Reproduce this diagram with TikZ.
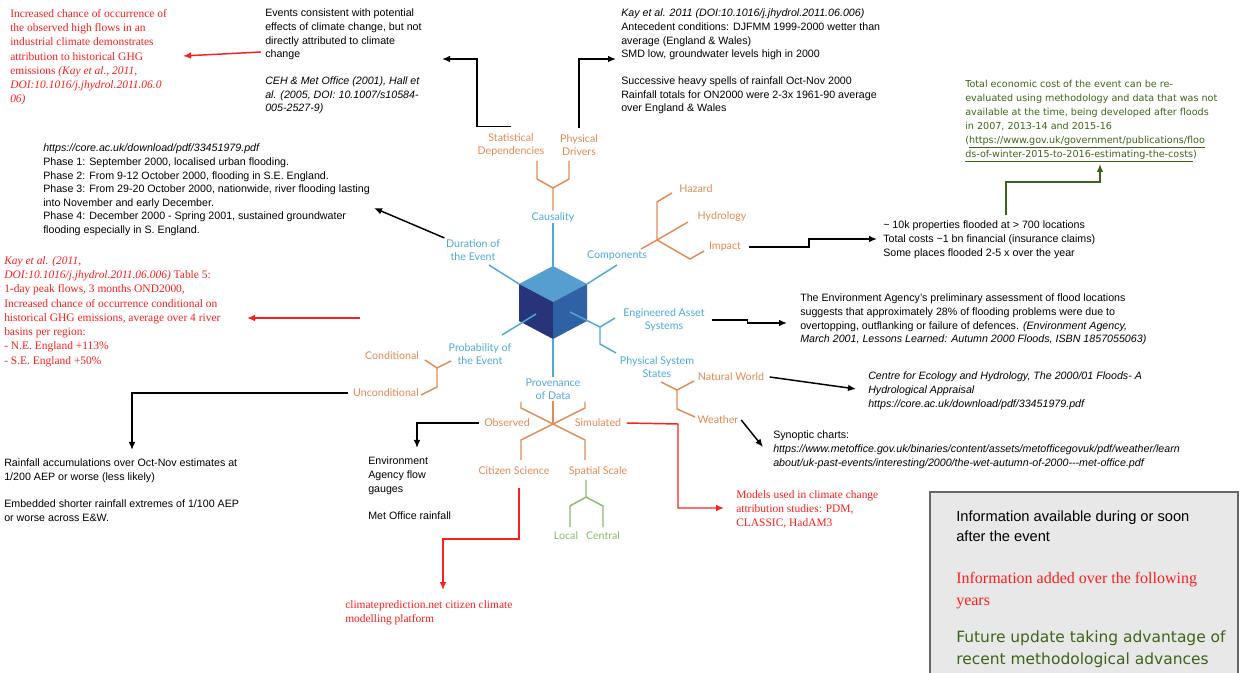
\documentclass[tikz,border=0pt]{standalone}
\usepackage{fontspec}
\setmainfont{Liberation Sans}
\newfontfamily\timesfont{Liberation Serif}
\newfontfamily\wheelfont{Lato}
\newfontfamily\comicfont{DejaVu Sans}
\usetikzlibrary{arrows.meta}

\definecolor{wheelblue}{RGB}{78,168,218}
\definecolor{wheelorange}{RGB}{226,138,84}
\definecolor{wheelgreen}{RGB}{140,185,110}
\definecolor{laterred}{RGB}{255,30,30}
\definecolor{futuregreen}{RGB}{60,100,25}
\definecolor{cubetop}{RGB}{84,158,208}
\definecolor{cubeleft}{RGB}{40,52,122}
\definecolor{cuberight}{RGB}{46,98,164}
\definecolor{legendfill}{RGB}{232,232,232}

\begin{document}
\begin{tikzpicture}[x=0.75pt,y=-0.75pt,
    note/.style={inner sep=0pt,anchor=north west,align=left,font=\fontsize{8}{10.2}\selectfont},
    laternote/.style={note,text=laterred,font=\timesfont\fontsize{8.6}{10.7}\selectfont},
    futurenote/.style={note,text=futuregreen,font=\comicfont\fontsize{7.2}{10.5}\selectfont},
    dimlabel/.style={inner sep=1pt,align=center,text=wheelblue,font=\wheelfont\fontsize{8}{9.75}\selectfont},
    sublabel/.style={dimlabel,text=wheelorange},
    leaflabel/.style={dimlabel,text=wheelgreen},
    dimline/.style={draw=wheelblue,line width=1.1pt},
    subline/.style={draw=wheelorange,line width=1.1pt},
    leafline/.style={draw=wheelgreen,line width=1.1pt},
    link/.style={-{Latex[length=6pt,width=5pt]},line width=1.1pt},
    laterlink/.style={link,color=laterred},
    futurelink/.style={link,color=futuregreen}]
    \useasboundingbox (0,0) rectangle (1239,673);

    \node[laternote] (attrib) at (10,9) {Increased chance of occurrence of\\the observed high flows in an\\industrial climate demonstrates\\attribution to historical GHG\\emissions \textit{(Kay et al., 2011,}\\\textit{DOI:10.1016/j.jhydrol.2011.06.0}\\\textit{06)}};
    \node[note] (consist) at (265,9) {Events consistent with potential\\effects of climate change, but not\\directly attributed to climate\\change\\[10pt]\textit{CEH \& Met Office (2001), Hall et}\\\textit{al. (2005, DOI: 10.1007/s10584-}\\\textit{005-2527-9)}};
    \node[note] (antec) at (621,9) {\textit{Kay et al. 2011 (DOI:10.1016/j.jhydrol.2011.06.006)}\\Antecedent conditions: DJFMM 1999-2000 wetter than\\average (England \& Wales)\\SMD low, groundwater levels high in 2000\\[10pt]Successive heavy spells of rainfall Oct-Nov 2000\\Rainfall totals for ON2000 were 2-3x 1961-90 average\\over England \& Wales};
    \node[futurenote] (cost) at (965,80) {Total economic cost of the event can be re-\\evaluated using methodology and data that was not\\available at the time, being developed after floods\\in 2007, 2013-14 and 2015-16\\(\underline{https://www.gov.uk/government/publications/floo}\\\underline{ds-of-winter-2015-to-2016-estimating-the-costs})};
    \node[note] (phases) at (43,144) {\textit{https://core.ac.uk/download/pdf/33451979.pdf}\\Phase 1: September 2000, localised urban flooding.\\Phase 2: From 9-12 October 2000, flooding in S.E. England.\\Phase 3: From 29-20 October 2000, nationwide, river flooding lasting\\into November and early December.\\Phase 4: December 2000 - Spring 2001, sustained groundwater\\flooding especially in S. England.};
    \node[laternote] (kaytable) at (4,256) {\textit{Kay et al. (2011,}\\\textit{DOI:10.1016/j.jhydrol.2011.06.006)} Table 5:\\1-day peak flows, 3 months OND2000,\\Increased chance of occurrence conditional on\\historical GHG emissions, average over 4 river\\basins per region:\\- N.E. England +113\%\\- S.E. England +50\%};
    \node[note] (props) at (883,221) {\textasciitilde{} 10k properties flooded at > 700 locations\\Total costs \textasciitilde1 bn financial (insurance claims)\\Some places flooded 2-5 x over the year};
    \node[note] (eaassess) at (800,294) {The Environment Agency’s preliminary assessment of flood locations\\suggests that approximately 28\% of flooding problems were due to\\overtopping, outflanking or failure of defences. \textit{(Environment Agency,}\\\textit{March 2001, Lessons Learned: Autumn 2000 Floods, ISBN 1857055063)}};
    \node[note] (cehref) at (868,372) {\textit{Centre for Ecology and Hydrology, The 2000/01 Floods- A}\\\textit{Hydrological Appraisal}\\\textit{https://core.ac.uk/download/pdf/33451979.pdf}};
    \node[note] (synoptic) at (773,431) {Synoptic charts:\\\textit{https://www.metoffice.gov.uk/binaries/content/assets/metofficegovuk/pdf/weather/learn}\\\textit{about/uk-past-events/interesting/2000/the-wet-autumn-of-2000-{}-{}-met-office.pdf}};
    \node[note] (rainacc) at (4,459) {Rainfall accumulations over Oct-Nov estimates at\\1/200 AEP or worse (less likely)\\[10pt]Embedded shorter rainfall extremes of 1/100 AEP\\or worse across E\&W.};
    \node[note] (gauges) at (368,457) {Environment\\Agency flow\\gauges\\[10pt]Met Office rainfall};
    \node[laternote] (models) at (736,490) {Models used in climate change\\attribution studies: PDM,\\CLASSIC, HadAM3};
    \node[laternote] (cpdn) at (345,600) {climateprediction.net citizen climate\\modelling platform};

    \fill[cubetop] (553,266) -- (587,284) -- (553,302) -- (519,284) -- cycle;
    \fill[cubeleft] (519,284) -- (553,302) -- (553,339) -- (519,321) -- cycle;
    \fill[cuberight] (587,284) -- (553,302) -- (553,339) -- (587,321) -- cycle;

    \node[dimlabel] (causal) at (553,217) {Causality};
    \node[dimlabel] (durat) at (473,250) {Duration of\\the Event};
    \node[dimlabel] (compo) at (617,256) {Components};
    \node[dimlabel] (engin) at (664,320) {Engineered Asset\\Systems};
    \node[dimlabel] (physys) at (657,367) {Physical System\\States};
    \node[dimlabel] (probab) at (480,354) {Probability of\\the Event};
    \node[dimlabel] (proven) at (553,389) {Provenance\\of Data};
    \node[sublabel] (statdep) at (511,145) {Statistical\\Dependencies};
    \node[sublabel] (phydrv) at (579,145) {Physical\\Drivers};
    \node[sublabel] (hazard) at (696,189) {Hazard};
    \node[sublabel] (hydro) at (722,217) {Hydrology};
    \node[sublabel] (impact) at (725,247) {Impact};
    \node[sublabel] (natworld) at (731,377) {Natural World};
    \node[sublabel] (weather) at (718,420) {Weather};
    \node[sublabel] (condit) at (392,356) {Conditional};
    \node[sublabel] (uncond) at (386,393) {Unconditional};
    \node[sublabel] (observ) at (507,423) {Observed};
    \node[sublabel] (simul) at (598,423) {Simulated};
    \node[sublabel] (citsci) at (514,471) {Citizen Science};
    \node[sublabel] (spatial) at (598,471) {Spatial Scale};
    \node[leaflabel] (local) at (566,536) {Local};
    \node[leaflabel] (central) at (603,536) {Central};

    \draw[dimline] (553,266) -- (causal.south);
    \draw[dimline] (519,284) -- (489,265);
    \draw[dimline] (587,284) -- (617,265);
    \draw[dimline] (570,312) -- (600,327) -- (615,318);
    \draw[dimline] (600,327) -- (600,344) -- (616,353);
    \draw[dimline] (536,314) -- (502,335);
    \draw[dimline] (553,339) -- (proven.north);

    \draw[subline] (causal.north) -- (553,188) -- (537,179) -- (537,161);
    \draw[subline] (553,188) -- (569,179) -- (569,161);
    \draw[subline] (641,249) -- (657,240) -- (657,202) -- (672,193);
    \draw[subline] (657,240) -- (688,222);
    \draw[subline] (657,240) -- (690,259) -- (704,251);
    \draw[subline] (661,382) -- (677,390) -- (694,381);
    \draw[subline] (677,390) -- (677,409) -- (695,417);
    \draw[subline] (451,361) -- (437,368) -- (425,360);
    \draw[subline] (437,368) -- (437,387) -- (421,395);
    \draw[subline] (proven.south) -- (553,424);
    \draw[subline] (521,402) -- (521,408) -- (585,440) -- (585,460);
    \draw[subline] (585,402) -- (585,408) -- (521,440) -- (521,460);
    \draw[leafline] (586,480) -- (586,497) -- (570,506) -- (570,527);
    \draw[leafline] (586,497) -- (603,506) -- (603,527);

    \coordinate (attribtip) at (183,56);
    \coordinate (consisttip) at (442,59);
    \coordinate (antectip) at (616,59);
    \coordinate (phasestip) at (374,208);
    \coordinate (propstip) at (877,239);
    \coordinate (propstop) at (1006,215);
    \coordinate (costtip) at (1100,164);
    \coordinate (eatip) at (787,323);
    \coordinate (cehtip) at (856,389);
    \coordinate (synoptip) at (763,447);
    \coordinate (condsrc) at (360,318);
    \coordinate (kaytip) at (247,318);
    \coordinate (raintip) at (132,450);
    \coordinate (gaugetip) at (417,448);
    \coordinate (modeltip) at (724,508);
    \coordinate (citstart) at (519,488);
    \coordinate (citbend) at (519,539);
    \coordinate (cpdntip) at (443,590);

    \draw[laterlink] ([xshift=-3pt]consist.west |- 0,52) -- (attribtip);
    \draw[link] ([yshift=4pt]statdep.north) -| (477,59) -- (consisttip);
    \draw[link] ([yshift=4pt]phydrv.north) |- (antectip);
    \draw[link] (durat.north west) -- (phasestip);
    \draw[link] ([xshift=5pt]impact.east) -- ++(60,0) |- (propstip);
    \draw[futurelink] (propstop) -- (1006,182) -| (costtip);
    \draw[link] ([xshift=4pt]engin.east) -- ++(36,0) |- (eatip);
    \draw[link] ([xshift=3pt]natworld.east) -- (cehtip);
    \draw[link] ([xshift=1pt]weather.east) -- (synoptip);
    \draw[laterlink] (condsrc) -- (kaytip);
    \draw[link] ([xshift=-3pt]uncond.west) -| (raintip);
    \draw[link] ([xshift=-3pt]observ.west) -| (gaugetip);
    \draw[laterlink] ([xshift=3pt]simul.east) -- (678,424) |- (modeltip);
    \draw[laterlink] (citstart) -- (citbend) -| (cpdntip);

    \fill[legendfill] (930,492) rectangle (1238,673);
    \draw[draw=black!60,line width=0.8pt] (930,673) |- (1238,492) -- (1238,673);
    \node[note,font=\fontsize{11}{15}\selectfont] (legnow) at (956,511) {Information available during or soon\\after the event};
    \node[laternote,font=\timesfont\fontsize{12}{16.5}\selectfont] (leglater) at (956,572) {Information added over the following\\years};
    \node[futurenote,font=\comicfont\fontsize{11.6}{17.2}\selectfont] (legfuture) at (956,630) {Future update taking advantage of\\recent methodological advances};
\end{tikzpicture}
\end{document}
